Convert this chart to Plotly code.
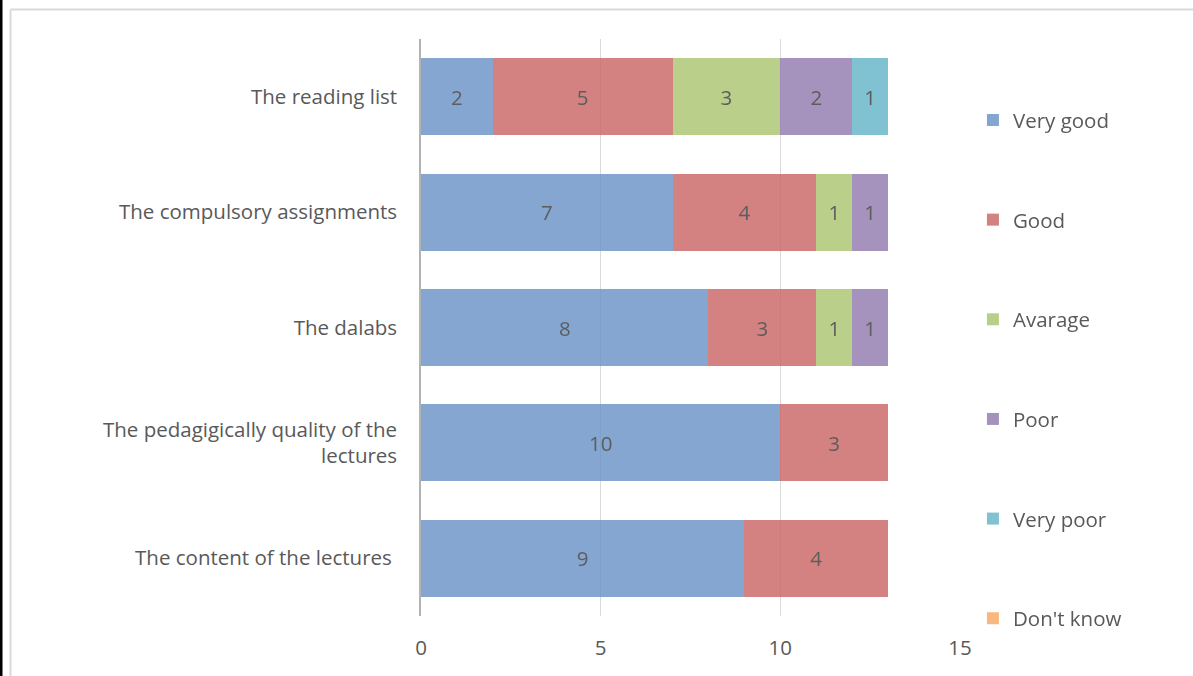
import plotly.graph_objects as go

categories = [
    "The reading list",
    "The compulsory assignments",
    "The dalabs",
    "The pedagigically quality of the<br>lectures",
    "The content of the lectures ",
]
series_names = ["Very good", "Good", "Avarage", "Poor", "Very poor", "Don't know"]
very_good = [2, 7, 8, 10, 9]
good = [5, 4, 3, 3, 4]
average = [3, 1, 1, 0, 0]
poor = [2, 1, 1, 0, 0]
very_poor = [1, 0, 0, 0, 0]
dont_know = [0, 0, 0, 0, 0]
x_ticks = [0, 5, 10, 15]

colors = ["rgb(110,151,201)", "rgb(204,107,107)", "rgb(173,199,117)",
          "rgb(149,127,177)", "rgb(106,184,203)", "rgb(250,170,105)"]
all_series = [very_good, good, average, poor, very_poor, dont_know]

FONT = "Open Sans"
FS = 20.5
fig = go.Figure()
for i, (name, vals, col) in enumerate(zip(series_names, all_series, colors)):
    show_text = name != "Don't know"
    fig.add_trace(go.Bar(
        y=categories, x=vals, name=name, orientation="h",
        marker=dict(color=col, line=dict(width=0)),
        opacity=0.85,
        text=[str(v) if (v and show_text) else "" for v in vals],
        textposition="inside", insidetextanchor="middle",
        textfont=dict(family=FONT, size=FS, color="#404040"),
        legendgroup=name, hoverinfo="x+name",
    ))

fig.update_layout(
    barmode="stack", bargap=0.333,
    width=1193, height=676,
    margin=dict(l=421, r=233, t=39, b=60),
    paper_bgcolor="white", plot_bgcolor="white",
    font=dict(family=FONT, size=FS, color="#595959"),
    uniformtext=dict(mode="show", minsize=10),
    legend=dict(
        x=1.024, xanchor="left", y=0.894, yanchor="top",
        traceorder="grouped", tracegroupgap=70,
        font=dict(family=FONT, size=FS, color="#595959"),
        bgcolor="rgba(0,0,0,0)",
    ),
    xaxis=dict(range=[0, 15], tickvals=x_ticks, showgrid=True, gridcolor="#d9d9d9",
               gridwidth=1, zeroline=False, showline=False, ticks="",
               ticklabelstandoff=17, fixedrange=True),
    yaxis=dict(autorange="reversed", showline=True, linecolor="#b3b3b3", linewidth=1.5,
               ticks="", ticklabelstandoff=18, showgrid=False),
)

# outer frame lines (paper coordinates)
W_plot = 1193 - 421 - 233
H_plot = 676 - 39 - 60
def px_x(px):
    return (px - 421) / W_plot
def px_y(py):
    return (676 - 60 - py) / H_plot

fig.add_shape(type="line", xref="paper", yref="paper",
              x0=px_x(10.5), x1=px_x(1193), y0=px_y(9.5), y1=px_y(9.5),
              line=dict(color="#d9d9d9", width=2))
fig.add_shape(type="line", xref="paper", yref="paper",
              x0=px_x(10.5), x1=px_x(10.5), y0=px_y(9.5), y1=px_y(700),
              line=dict(color="#d9d9d9", width=2))
fig.add_shape(type="line", xref="paper", yref="paper",
              x0=px_x(1), x1=px_x(1), y0=px_y(-10), y1=px_y(700),
              line=dict(color="black", width=3))

fig.write_html("out.html", config={"displayModeBar": False},
               post_script="document.body.style.margin='0';document.body.style.overflow='hidden';")
